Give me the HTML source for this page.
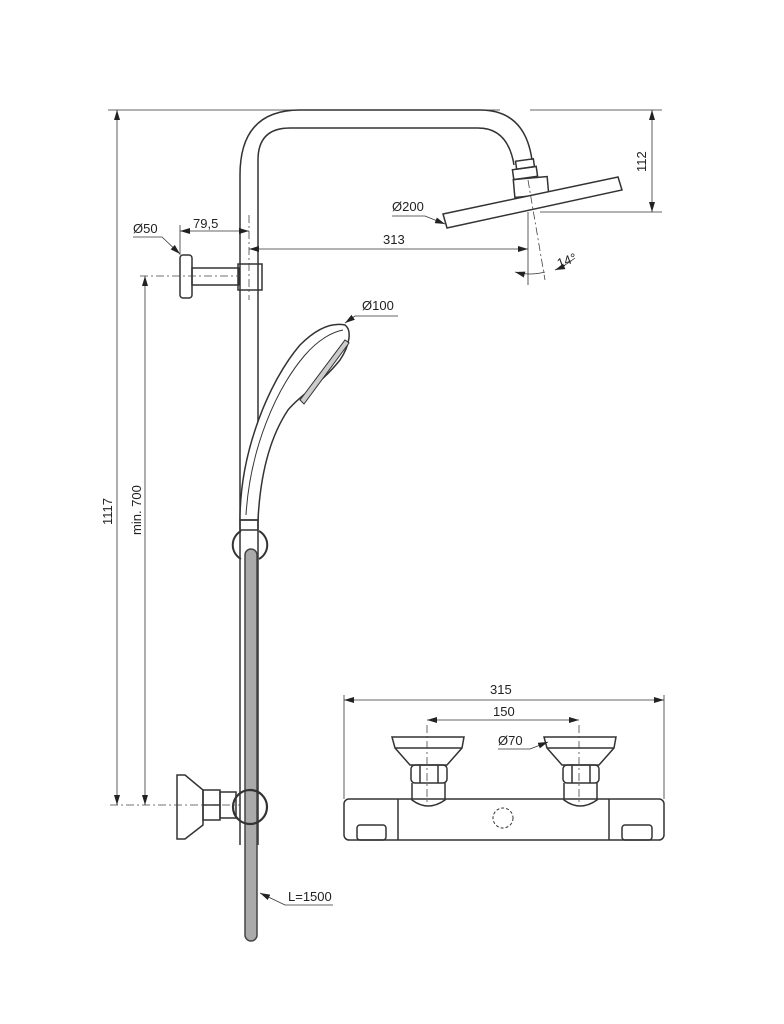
<!DOCTYPE html>
<html><head><meta charset="utf-8"><style>
html,body{margin:0;padding:0;background:#fff;}
svg{display:block;}
text{font-family:"Liberation Sans",sans-serif;font-size:13px;fill:#222;}
</style></head><body>
<svg width="784" height="1024" viewBox="0 0 784 1024" xmlns="http://www.w3.org/2000/svg">
<defs>
<marker id="a" viewBox="0 0 10 6" refX="10" refY="3" markerWidth="10" markerHeight="6" orient="auto-start-reverse" markerUnits="userSpaceOnUse"><path d="M0,0L10,3L0,6z" fill="#222"/></marker>
</defs>
<g fill="none" stroke="#333" stroke-width="1.5">
<path d="M240,845 V175 Q240,110 300,110 H480 Q525,110 532,160"/>
<path d="M258,845 V160 Q258,128 290,128 H478 Q508,128 514,165"/>
<rect x="516" y="160" width="18" height="8" transform="rotate(-8 525 164)"/>
<rect x="513" y="168" width="24" height="10" transform="rotate(-8 525 173)"/>
<rect x="514" y="178" width="34" height="18" transform="rotate(-5 531 187)"/>
<path d="M443,214 L618,177 L622,190 L447,228 Z" fill="#fff"/>
<rect x="180" y="255" width="12" height="43" rx="3"/>
<rect x="192" y="268" width="47" height="17"/>
<rect x="238" y="264" width="24" height="26"/>
<path d="M240,520 C240,450 270,380 300,345 C315,330 330,322 345,325 C352,330 350,345 340,360 C320,385 300,395 288,410 C268,440 260,480 258,520 Z" fill="#fff"/>
<path d="M246,515 C250,450 275,390 305,355 C318,340 332,332 343,330" stroke-width="1"/>
<path d="M300,400 L345,340 L349,343 L304,404 Z" fill="#ccc" stroke-width="1"/>
<rect x="240" y="520" width="18" height="10"/>
<path d="M241,531 A16,16 0 0 0 241,559 M259,531 A16,16 0 0 1 259,559" stroke-width="2"/>
<rect x="245" y="549" width="12" height="392" rx="6" fill="#aaa" stroke="#444"/>
<path d="M177,775 L185,775 L203,790 L203,825 L185,839 L177,839 Z"/>
<rect x="203" y="790" width="17" height="30"/>
<line x1="203" y1="805" x2="220" y2="805"/>
<rect x="220" y="792" width="16" height="26"/>
<circle cx="250" cy="807" r="17" stroke-width="2.2"/>
<rect x="344" y="799" width="320" height="41" rx="5" fill="#fff"/>
<line x1="398" y1="799" x2="398" y2="840"/>
<line x1="609" y1="799" x2="609" y2="840"/>
<rect x="357" y="825" width="29" height="15" rx="3"/>
<rect x="622" y="825" width="30" height="15" rx="3"/>
<circle cx="503" cy="818" r="10" stroke-dasharray="3,2" stroke-width="1"/>
<g id="k">
<path d="M392,737 H464 L462,748 L447,765 H410 L395,748 Z"/>
<line x1="395" y1="748" x2="462" y2="748"/>
<rect x="411" y="765" width="36" height="18" rx="4"/>
<line x1="420" y1="765" x2="420" y2="783"/><line x1="438" y1="765" x2="438" y2="783"/>
<path d="M412,783 V800 Q428,812 445,800 V783"/>
</g>
<use href="#k" transform="translate(152,0)"/>
</g>
<g stroke="#444" stroke-width="0.8" stroke-dasharray="8,3,2,3" fill="none">
<line x1="249" y1="215" x2="249" y2="300"/>
<line x1="140" y1="276" x2="240" y2="276"/>
<line x1="110" y1="805" x2="240" y2="805"/>
<line x1="427" y1="725" x2="427" y2="805"/>
<line x1="579" y1="725" x2="579" y2="805"/>
<line x1="528" y1="180" x2="545" y2="280"/>
</g>
<g stroke="#333" stroke-width="0.8" fill="none">
<line x1="108" y1="110" x2="500" y2="110"/>
<line x1="530" y1="110" x2="662" y2="110"/>
<line x1="540" y1="212" x2="662" y2="212"/>
<line x1="117" y1="110" x2="117" y2="805" marker-start="url(#a)" marker-end="url(#a)"/>
<line x1="145" y1="276" x2="145" y2="805" marker-start="url(#a)" marker-end="url(#a)"/>
<line x1="652" y1="110" x2="652" y2="212" marker-start="url(#a)" marker-end="url(#a)"/>
<line x1="180" y1="225" x2="180" y2="255"/>
<line x1="180" y1="231" x2="249" y2="231" marker-start="url(#a)" marker-end="url(#a)"/>
<line x1="249" y1="249" x2="528" y2="249" marker-start="url(#a)" marker-end="url(#a)"/>
<line x1="528" y1="212" x2="528" y2="285"/>
<path d="M515,272 Q530,276 545,272" marker-start="url(#a)"/>
<path d="M555,270 Q565,266 575,258" marker-start="url(#a)"/>
<polyline points="133,237 162,237 180,254" marker-end="url(#a)"/>
<polyline points="392,216 425,216 445,224" marker-end="url(#a)"/>
<polyline points="398,316 355,316 345,323" marker-end="url(#a)"/>
<line x1="344" y1="695" x2="344" y2="799"/>
<line x1="664" y1="695" x2="664" y2="799"/>
<line x1="344" y1="700" x2="664" y2="700" marker-start="url(#a)" marker-end="url(#a)"/>
<line x1="427" y1="720" x2="579" y2="720" marker-start="url(#a)" marker-end="url(#a)"/>
<polyline points="498,749 530,749 548,742" marker-end="url(#a)"/>
<polyline points="333,905 285,905 260,893" marker-end="url(#a)"/>
</g>
<text x="193" y="228">79,5</text>
<text x="133" y="233">Ø50</text>
<text x="383" y="244">313</text>
<text x="392" y="211">Ø200</text>
<text transform="translate(559,268) rotate(-20)">14°</text>
<text x="362" y="310">Ø100</text>
<text x="490" y="694">315</text>
<text x="493" y="716">150</text>
<text x="498" y="745">Ø70</text>
<text x="288" y="901">L=1500</text>
<text transform="translate(112,525) rotate(-90)">1117</text>
<text transform="translate(141,535) rotate(-90)">min. 700</text>
<text transform="translate(646,172) rotate(-90)">112</text>
</svg>
</body></html>
